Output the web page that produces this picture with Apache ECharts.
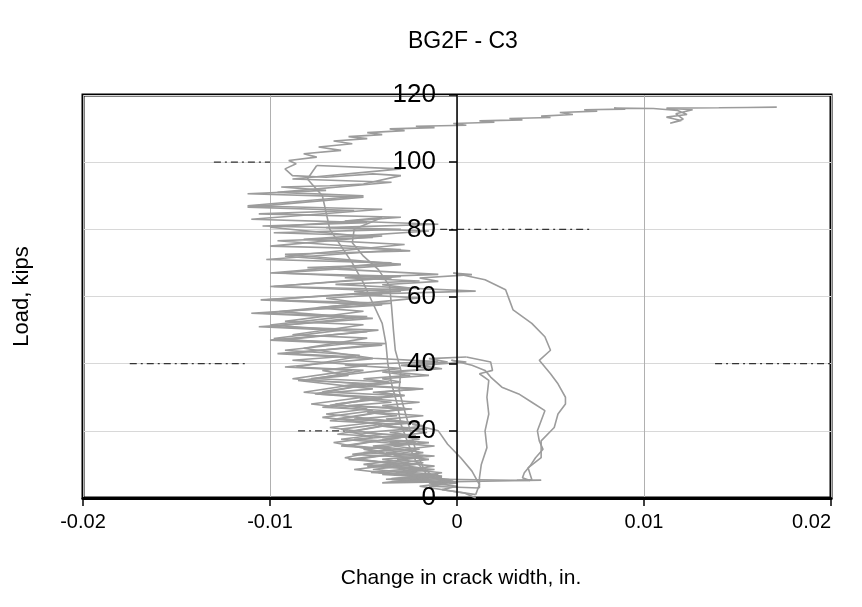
<!DOCTYPE html>
<html>
<head>
<meta charset="utf-8">
<script src="https://cdn.jsdelivr.net/npm/echarts@6/dist/echarts.min.js"></script>
<style>
  html, body { margin: 0; padding: 0; background: #fff; }
  #chart { width: 862px; height: 607px; }
</style>
</head>
<body>
<div id="chart"></div>
<script>
// Crack gauge C3, specimen BG2F: change in crack width (in.) vs. applied load (kips).
// Each array is one load/unload branch, points are [width change, load].

const cycle1 = [[0.0010,0],[0.0004,1.5],[-0.0008,2.5],[0.0000,3.5],[-0.0015,4.5],[-0.0004,5.5],[-0.0020,6.5],[-0.0008,7.5],[-0.0026,8.5],[-0.0012,9.5],[-0.0030,10.5],[-0.0015,11.5],[-0.0034,12.5],[-0.0018,13.5],[-0.0028,14.5],[-0.0012,15.5],[-0.0036,16.5],[-0.0020,17.5],[-0.0032,18.5],[-0.0016,19.5],[-0.0030,20.5],[-0.0018,21.5],[-0.0024,22],[-0.0010,20],[-0.0005,16],[0.0002,12],[0.0008,8],[0.0012,4],[0.0010,1]];

const cycle2Load = [[0.0010,1],[-0.0020,3.5],[-0.0005,4.5],[-0.0035,5.5],[-0.0012,6.5],[-0.0042,7.5],[-0.0020,8.5],[-0.0048,9.5],[-0.0026,10.5],[-0.0040,11.5],[-0.0018,12.5],[-0.0050,13.5],[-0.0028,14.5],[-0.0045,15.5],[-0.0022,16.5],[-0.0055,17.5],[-0.0030,18.5],[-0.0050,19.5],[-0.0026,20.5],[-0.0042,21.5],[-0.0020,22.5],[-0.0055,23.5],[-0.0032,24.5],[-0.0048,25.5],[-0.0024,26.5],[-0.0058,27.5],[-0.0035,28.5],[-0.0052,29.5],[-0.0028,30.5],[-0.0045,31.5],[-0.0018,32.5],[-0.0060,33.5],[-0.0036,34.5],[-0.0050,35.5],[-0.0025,36.5],[-0.0040,37.5],[-0.0012,38.5],[-0.0030,39.5],[-0.0005,40.5],[-0.0015,41.5],[0.0005,42]];
const cycle2Unload = [[0.0005,42],[0.0018,40.5],[0.0019,38],[0.0012,37],[0.0017,35],[0.0016,30],[0.0017,25],[0.0015,20],[0.0016,15],[0.0013,10],[0.0012,6],[0.0012,3]];

const cycle3Load = [[0.0012,3],[-0.0015,3.5],[0.0000,4.5],[-0.0025,5.5],[-0.0008,6.5],[-0.0030,7.5],[-0.0012,8.5],[-0.0035,9.5],[-0.0018,10.5],[-0.0032,11.5],[-0.0012,12.5],[-0.0038,13.5],[-0.0020,14.5],[-0.0034,15.5],[-0.0015,16.5],[-0.0040,17.5],[-0.0022,18.5],[-0.0036,19.5],[-0.0016,20.5],[-0.0042,21.5],[-0.0024,22.5],[-0.0038,23.5],[-0.0018,24.5],[-0.0045,25.5],[-0.0026,26.5],[-0.0040,27.5],[-0.0020,28.5],[-0.0046,29.5],[-0.0028,30.5],[-0.0042,31.5],[-0.0020,32.5],[-0.0048,33.5],[-0.0030,34.5],[-0.0040,35.5],[-0.0015,36.5],[-0.0035,37.5],[-0.0008,38.5],[-0.0020,39.5],[0.0005,40.5],[-0.0003,41]];
const cycle3Unload = [[-0.0003,41],[0.0008,39.5],[0.0015,38],[0.0018,36],[0.0024,33],[0.0033,31],[0.0040,28.5],[0.0047,26],[0.0045,23],[0.0043,20],[0.0044,17],[0.0046,14.5],[0.0042,12],[0.0039,9.5],[0.0036,7.5],[0.0035,6],[0.0039,5.2]];

const cycle4Load = [[0.0039,5.2],[-0.0035,5.8],[-0.0010,7],[-0.0045,8.5],[-0.0022,10],[-0.0058,11.5],[-0.0035,13],[-0.0050,14.5],[-0.0028,16],[-0.0062,17.5],[-0.0040,19],[-0.0068,21],[-0.0036,23],[-0.0070,25],[-0.0048,26.5],[-0.0065,28],[-0.0040,29.5],[-0.0075,31],[-0.0045,32.5],[-0.0085,35],[-0.0058,36.5],[-0.0072,38],[-0.0048,39.5],[-0.0088,41],[-0.0052,42.5],[-0.0092,44],[-0.0058,46],[-0.0098,47.5],[-0.0062,50],[-0.0100,51.5],[-0.0060,54],[-0.0095,55.5],[-0.0050,58],[-0.0070,59.5],[-0.0040,60.5],[-0.0055,61.5],[-0.0025,62.5],[-0.0040,63.5],[-0.0010,64.5],[-0.0020,65.5],[0.0008,66.5],[-0.0002,67]];
const cycle4Unload = [[-0.0002,67],[0.0015,65],[0.0026,62],[0.0028,59],[0.0030,56],[0.0040,52],[0.0047,48],[0.0050,44],[0.0044,41],[0.0050,37],[0.0054,34],[0.0058,30],[0.0058,28],[0.0054,25],[0.0052,21],[0.0045,17],[0.0045,12],[0.0038,9],[0.0040,5.5],[0.0032,5.3],[0.0045,5.3]];

const cycle5Load = [[0.0045,5.3],[-0.0040,4.5],[-0.0015,6],[-0.0055,8.5],[-0.0032,10],[-0.0060,12],[-0.0042,14],[-0.0066,16.5],[-0.0045,18],[-0.0062,20.5],[-0.0040,22],[-0.0072,24],[-0.0045,26],[-0.0078,28],[-0.0050,30],[-0.0082,31.5],[-0.0052,34],[-0.0088,35.5],[-0.0056,38],[-0.0092,39],[-0.0045,41.5],[-0.0096,43],[-0.0040,45.5],[-0.0100,47],[-0.0048,49.5],[-0.0106,51],[-0.0045,53.5],[-0.0110,55],[-0.0040,57.5],[-0.0105,59],[-0.0030,61.5],[-0.0100,63],[-0.0035,65.5],[-0.0095,67],[-0.0030,69.5],[-0.0092,72],[-0.0028,75.5],[-0.0082,77],[-0.0015,79.5],[-0.0070,80.5],[-0.0010,81.5],[-0.0060,82.5],[-0.0040,83.5]];
const cycle5Unload = [[-0.0040,83.5],[-0.0055,80],[-0.0056,76],[-0.0050,72],[-0.0042,68],[-0.0036,63],[-0.0035,57],[-0.0034,50],[-0.0033,44],[-0.0030,38],[-0.0031,32],[-0.0028,26],[-0.0025,20],[-0.0022,14],[-0.0018,9],[-0.0012,6],[-0.0002,5]];

const cycle6Load = [[-0.0002,5],[-0.0030,4.8],[-0.0008,6],[-0.0040,7],[-0.0018,8.5],[-0.0050,10],[-0.0020,12],[-0.0056,13],[-0.0035,14.5],[-0.0062,15.5],[-0.0030,18],[-0.0064,19],[-0.0034,22],[-0.0068,23],[-0.0036,26],[-0.0072,27],[-0.0040,30],[-0.0076,31],[-0.0045,34],[-0.0082,35],[-0.0050,38],[-0.0086,39],[-0.0054,42],[-0.0090,43],[-0.0038,46],[-0.0094,47],[-0.0042,50],[-0.0100,51],[-0.0048,54],[-0.0104,55],[-0.0035,58],[-0.0102,59],[-0.0025,62],[-0.0098,63],[-0.0030,66],[-0.0100,67],[-0.0035,70],[-0.0102,71],[-0.0030,74],[-0.0100,75],[-0.0040,78],[-0.0098,79],[-0.0030,80],[-0.0104,81],[-0.0048,82],[-0.0110,83],[-0.0040,86],[-0.0112,87],[-0.0050,90],[-0.0096,91],[-0.0035,94],[-0.0088,95],[-0.0030,98],[-0.0075,99]];
const cycle6Unload = [[-0.0075,99],[-0.0080,95],[-0.0072,90],[-0.0070,85],[-0.0068,80],[-0.0062,75],[-0.0056,70],[-0.0050,64],[-0.0045,58],[-0.0040,52],[-0.0038,46],[-0.0037,40],[-0.0035,34],[-0.0032,28],[-0.0030,22],[-0.0026,16],[-0.0022,11],[-0.0016,7],[-0.0008,5]];

const finalLoad = [[-0.0008,5],[-0.0038,5.6],[-0.0012,6.6],[-0.0046,7.6],[-0.0020,9],[-0.0052,11.6],[-0.0022,14],[-0.0058,15.6],[-0.0025,18.6],[-0.0060,19.6],[-0.0028,22.6],[-0.0064,23.6],[-0.0030,26.6],[-0.0068,27.6],[-0.0034,30.6],[-0.0072,31.6],[-0.0038,34.6],[-0.0078,35.6],[-0.0030,38.6],[-0.0060,39.6],[-0.0010,40.6],[-0.0045,41.6],[-0.0082,44.6],[-0.0048,47.6],[-0.0088,48.6],[-0.0050,51.6],[-0.0092,52.6],[-0.0050,55.6],[-0.0075,56.6],[-0.0020,59.6],[-0.0055,60.6],[0.0010,61.6],[-0.0030,62.6],[-0.0065,63.6],[-0.0020,64.6],[-0.0060,65.6],[-0.0010,66.6],[-0.0080,68.6],[-0.0030,69.6],[-0.0092,72.6],[-0.0025,73.6],[-0.0096,76.6],[-0.0045,77.6],[-0.0100,80.6],[-0.0030,83.6],[-0.0106,84.6],[-0.0055,85.6],[-0.0112,86.6],[-0.0050,89.6],[-0.0112,90.6],[-0.0070,91.6],[-0.0094,92.6],[-0.0068,93],[-0.0050,93.5],[-0.0030,96],[-0.0045,96.5],[-0.0070,95.5],[-0.0088,96],[-0.0092,98],[-0.0086,99.5],[-0.0090,100.5],[-0.0075,101.5],[-0.0082,102.5],[-0.0062,103.5],[-0.0074,104.5],[-0.0056,105.5],[-0.0066,106.3],[-0.0048,107],[-0.0058,107.6],[-0.0040,108.2],[-0.0048,108.8],[-0.0028,109.4],[-0.0036,109.9],[-0.0012,110.3],[-0.0022,110.7],[0.0005,111],[-0.0002,111.5],[0.0020,111.9],[0.0012,112.3],[0.0035,112.6],[0.0028,113],[0.0050,113.3],[0.0045,113.7],[0.0062,114.2],[0.0055,114.8],[0.0075,115.2],[0.0068,115.6],[0.0090,115.8],[0.0084,116.1],[0.0105,116],[0.0118,115.4],[0.0123,114.2],[0.0112,113.4],[0.0120,112.4],[0.0114,111.6],[0.0121,112.8],[0.0117,114.4],[0.0126,115.6],[0.0112,116.1],[0.0140,116.2],[0.0155,116.3],[0.0171,116.4]];

// Short dark dashed strokes lying on some load levels
const dashStrokes = [
  [[-0.0175,40],[-0.0112,40]],
  [[0.0138,40],[0.0200,40]],
  [[-0.0009,80],[0.0071,80]],
  [[-0.0130,100],[-0.0100,100]],
  [[-0.0085,20],[-0.0055,20]]
];

// Axis ticks
const xTicks = [-0.02, -0.01, 0, 0.01, 0.02];
const yTicks = [0, 20, 40, 60, 80, 100, 120];

const traceBranches = [cycle1, cycle2Load, cycle2Unload, cycle3Load, cycle3Unload,
  cycle4Load, cycle4Unload, cycle5Load, cycle5Unload, cycle6Load, cycle6Unload, finalLoad];

const chart = echarts.init(document.getElementById('chart'), null, { renderer: 'canvas' });

const series = traceBranches.map(function (pts) {
  return {
    type: 'line',
    data: pts,
    showSymbol: false,
    silent: true,
    lineStyle: { color: '#9c9c9c', width: 1.6 },
    z: 3
  };
});
dashStrokes.forEach(function (seg) {
  series.push({
    type: 'line',
    data: seg,
    showSymbol: false,
    silent: true,
    lineStyle: { color: '#333', width: 1.2, type: [7, 4, 2, 4] },
    z: 2
  });
});

const fontFam = 'Arial, "Liberation Sans", sans-serif';
const gridLeft = 83, gridRight = 31;
const plotWidth = 862 - gridLeft - gridRight;

chart.setOption({
  animation: false,
  backgroundColor: '#fff',
  title: {
    text: 'BG2F - C3',
    left: 403,
    top: 25,
    textStyle: { fontFamily: fontFam, fontSize: 23, fontWeight: 'normal', color: '#000' }
  },
  grid: {
    left: gridLeft, right: gridRight, top: 95, bottom: 109,
    show: true, borderColor: '#000', borderWidth: 3, backgroundColor: 'transparent'
  },
  xAxis: {
    type: 'value',
    min: xTicks[0], max: xTicks[xTicks.length - 1], interval: 0.01,
    name: 'Change in crack width, in.',
    nameLocation: 'middle',
    nameGap: 70,
    nameTextStyle: { fontFamily: fontFam, fontSize: 21, color: '#000', padding: [0, 0, 0, 8] },
    axisLine: { onZero: false, lineStyle: { color: '#000', width: 3 } },
    axisTick: { show: true, length: 8, lineStyle: { color: '#000', width: 1.5 } },
    axisLabel: {
      fontFamily: fontFam, fontSize: 20, color: '#000', margin: 14,
      alignMaxLabel: 'right',
      formatter: function (v) { return v === 0 ? '0' : String(+v.toFixed(2)); }
    },
    splitLine: { show: true, lineStyle: { color: '#b0b0b0', width: 1 } }
  },
  yAxis: [{
    type: 'value',
    min: yTicks[0], max: yTicks[yTicks.length - 1], interval: 20,
    name: 'Load, kips',
    nameLocation: 'middle',
    nameRotate: 90,
    nameGap: 50,
    nameTextStyle: { fontFamily: fontFam, fontSize: 22, color: '#000' },
    axisLine: { show: false, onZero: false },
    axisTick: { show: false },
    axisLabel: { show: false },
    splitLine: { show: true, lineStyle: { color: '#d8d8d8', width: 1 } }
  }, {
    // load axis drawn through zero crack width, labels above the traces
    type: 'value',
    position: 'left',
    offset: -plotWidth / 2,
    min: yTicks[0], max: yTicks[yTicks.length - 1], interval: 20,
    z: 10,
    axisLine: { show: true, onZero: false, lineStyle: { color: '#000', width: 1.5 } },
    axisTick: { show: true, length: 8, lineStyle: { color: '#000', width: 1.5 } },
    axisLabel: { fontFamily: fontFam, fontSize: 26, color: '#000', margin: 21 },
    splitLine: { show: false }
  }],
  series: series
});
</script>
</body>
</html>
